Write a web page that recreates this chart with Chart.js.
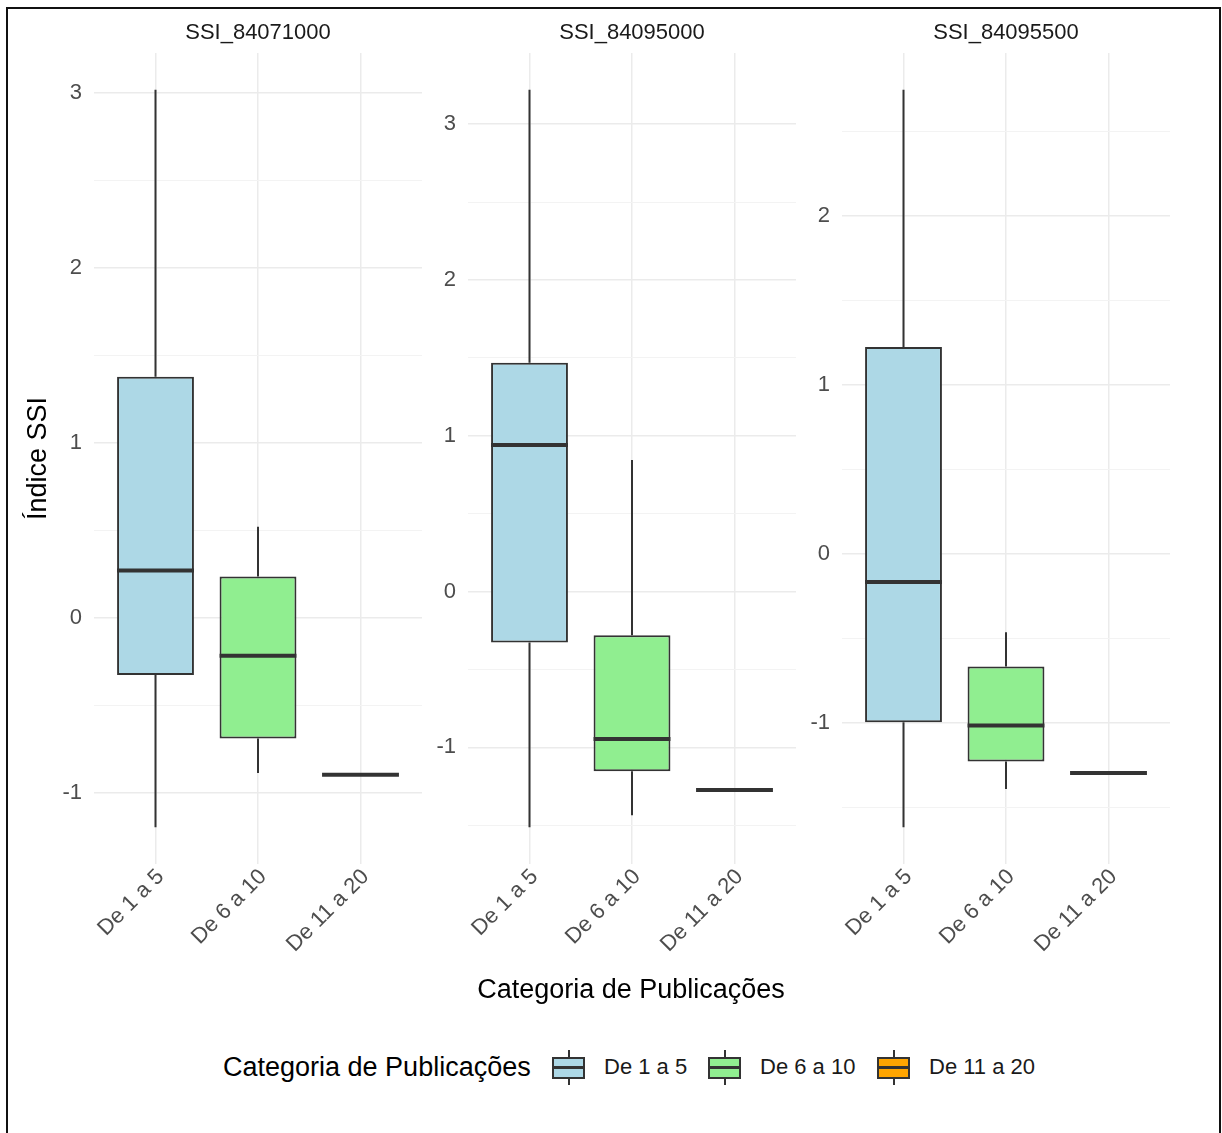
<!DOCTYPE html>
<html lang="pt">
<head>
<meta charset="utf-8">
<title>Índice SSI por categoria de publicações</title>
<script src="https://cdn.jsdelivr.net/npm/chart.js@4.4.1/dist/chart.umd.min.js"></script>
<style>
  html, body { margin: 0; padding: 0; background: #fff; }
  body {
    width: 1222px; height: 1133px; position: relative; overflow: hidden;
    font-family: "Liberation Sans", Arial, Helvetica, sans-serif;
  }
  .frame {
    position: absolute; left: 6px; top: 7px; width: 1211px; height: 1200px;
    border: 2px solid #111; border-bottom: none;
  }
  canvas.panel { position: absolute; top: 0; }
  .strip {
    position: absolute; top: 18px; width: 328px; text-align: center;
    font-size: 22px; line-height: 28px; color: #1a1a1a; white-space: nowrap;
  }
  .xtitle {
    position: absolute; left: 331px; width: 600px; top: 973px; text-align: center;
    font-size: 27px; line-height: 32px; color: #000; white-space: nowrap;
  }
  .lg-title {
    position: absolute; left: 223px; top: 1051px;
    font-size: 27px; line-height: 32px; color: #000; white-space: nowrap;
  }
  .lg-label {
    position: absolute; top: 1053px;
    font-size: 22px; line-height: 28px; color: #1a1a1a; white-space: nowrap;
  }
  .key { position: absolute; top: 1046px; width: 43px; height: 43px; }
  .key .wh { position: absolute; left: 20.5px; width: 2px; background: #333; }
  .key .wh.up { top: 4px; height: 7px; }
  .key .wh.dn { top: 32px; height: 7px; }
  .key .bx {
    position: absolute; left: 5px; top: 10.5px; width: 33px; height: 22px;
    box-sizing: border-box; border: 2px solid #333;
  }
  .key .md { position: absolute; left: 0; right: 0; top: 7.5px; height: 3px; background: #333; }
</style>
</head>
<body>
<div class="frame"></div>

<canvas class="panel" id="p0" width="414" height="990" style="left:8px"></canvas>
<canvas class="panel" id="p1" width="414" height="990" style="left:382px"></canvas>
<canvas class="panel" id="p2" width="414" height="990" style="left:756px"></canvas>

<div class="strip" id="s0" style="left:94px"></div>
<div class="strip" id="s1" style="left:468px"></div>
<div class="strip" id="s2" style="left:842px"></div>

<div class="xtitle">Categoria de Publicações</div>

<div class="lg-title">Categoria de Publicações</div>
<div class="key" id="k0" style="left:547px"><div class="wh up"></div><div class="bx"><div class="md"></div></div><div class="wh dn"></div></div>
<div class="lg-label" id="l0" style="left:604px"></div>
<div class="key" id="k1" style="left:703px"><div class="wh up"></div><div class="bx"><div class="md"></div></div><div class="wh dn"></div></div>
<div class="lg-label" id="l1" style="left:760px"></div>
<div class="key" id="k2" style="left:872px"><div class="wh up"></div><div class="bx"><div class="md"></div></div><div class="wh dn"></div></div>
<div class="lg-label" id="l2" style="left:929px"></div>

<script>
// Publication categories (x axis, one box per category)
const categories = ['De 1 a 5', 'De 6 a 10', 'De 11 a 20'];
// One facet per station
const stations = ['SSI_84071000', 'SSI_84095000', 'SSI_84095500'];
const boxFills = ['#ADD8E6', '#90EE90', '#FFA500'];

// Five-number summaries, one row per station, one value per category
const whiskerLow  = [[-1.196, -0.887, -0.897], [-1.512, -1.435, -1.273], [-1.617, -1.392, -1.296]];
const quartile1   = [[-0.326, -0.690, -0.897], [-0.327, -1.153, -1.273], [-0.996, -1.229, -1.296]];
const medians     = [[ 0.270, -0.217, -0.897], [ 0.940, -0.947, -1.273], [-0.166, -1.016, -1.296]];
const quartile3   = [[ 1.377,  0.236, -0.897], [ 1.468, -0.280, -1.273], [ 1.225, -0.667, -1.296]];
const whiskerHigh = [[ 3.017,  0.520, -0.897], [ 3.220,  0.845, -1.273], [ 2.746, -0.463, -1.296]];

const FONT = '"Liberation Sans", Arial, Helvetica, sans-serif';
const INK = '#333333';

// Draws whiskers and the median bar on top of the floating Q1–Q3 bars
const boxWhiskers = {
  id: 'boxWhiskers',
  afterDatasetsDraw(chart, args, opts) {
    const ctx = chart.ctx;
    const yS = chart.scales.y;
    const bars = chart.getDatasetMeta(0).data;
    ctx.save();
    ctx.strokeStyle = INK;
    ctx.lineCap = 'butt';
    bars.forEach((bar, i) => {
      const cx = bar.x;
      const half = bar.width / 2;
      const yLo = yS.getPixelForValue(opts.low[i]);
      const yQ1 = yS.getPixelForValue(opts.q1[i]);
      const yMd = yS.getPixelForValue(opts.median[i]);
      const yQ3 = yS.getPixelForValue(opts.q3[i]);
      const yHi = yS.getPixelForValue(opts.high[i]);
      ctx.lineWidth = 2;
      ctx.beginPath();
      if (yHi < yQ3) { ctx.moveTo(cx, yQ3); ctx.lineTo(cx, yHi); }
      if (yLo > yQ1) { ctx.moveTo(cx, yQ1); ctx.lineTo(cx, yLo); }
      ctx.stroke();
      ctx.lineWidth = 4;
      ctx.beginPath();
      ctx.moveTo(cx - half, yMd);
      ctx.lineTo(cx + half, yMd);
      ctx.stroke();
    });
    ctx.restore();
  }
};

function isWhole(v) { return Math.abs(v - Math.round(v)) < 1e-9; }

stations.forEach((name, p) => {
  document.getElementById('s' + p).textContent = name;

  const lo = Math.min(...whiskerLow[p]);
  const hi = Math.max(...whiskerHigh[p]);
  const pad = (hi - lo) * 0.05;

  new Chart(document.getElementById('p' + p), {
    type: 'bar',
    data: {
      datasets: [{
        data: categories.map((c, i) => ({ x: i, y: [quartile1[p][i], quartile3[p][i]] })),
        backgroundColor: boxFills,
        borderColor: INK,
        borderWidth: 2,
        borderSkipped: false,
        barPercentage: 0.75,
        categoryPercentage: 1
      }]
    },
    options: {
      responsive: false,
      animation: false,
      devicePixelRatio: 1,
      layout: { padding: { top: 53, left: 0, right: 0, bottom: 0 } },
      plugins: {
        legend: { display: false },
        tooltip: { enabled: false },
        boxWhiskers: {
          low: whiskerLow[p], q1: quartile1[p], median: medians[p],
          q3: quartile3[p], high: whiskerHigh[p]
        }
      },
      scales: {
        x: {
          type: 'linear',
          offset: false,
          min: -0.6,
          max: 2.6,
          afterBuildTicks: s => { s.ticks = categories.map((c, i) => ({ value: i })); },
          afterFit: s => { s.height = 126; s.paddingLeft = 0; s.paddingRight = 0; },
          border: { display: false },
          grid: { offset: false, color: '#ebebeb', lineWidth: 1.5, drawTicks: false },
          ticks: {
            autoSkip: false,
            minRotation: 45,
            maxRotation: 45,
            padding: 0,
            labelOffset: 5,
            color: '#4d4d4d',
            font: { family: FONT, size: 22 },
            callback: v => categories[v]
          }
        },
        y: {
          min: lo - pad,
          max: hi + pad,
          afterFit: s => { s.width = 86; },
          border: { display: false },
          grid: {
            drawTicks: false,
            color: c => isWhole(c.tick.value) ? '#ebebeb' : '#f3f3f3',
            lineWidth: c => isWhole(c.tick.value) ? 1.5 : 1
          },
          ticks: {
            stepSize: 0.5,
            includeBounds: false,
            autoSkip: false,
            padding: 12,
            color: '#4d4d4d',
            font: { family: FONT, size: 22 },
            callback: v => isWhole(v) ? String(Math.round(v)) : ''
          },
          title: {
            display: p === 0,
            text: 'Índice SSI',
            color: '#000',
            font: { family: FONT, size: 27 },
            padding: { top: 14, bottom: 0 }
          }
        }
      }
    },
    plugins: [boxWhiskers]
  });
});

// Legend: one boxplot key per category
categories.forEach((c, i) => {
  document.getElementById('l' + i).textContent = c;
  document.querySelector('#k' + i + ' .bx').style.background = boxFills[i];
});
</script>
</body>
</html>
